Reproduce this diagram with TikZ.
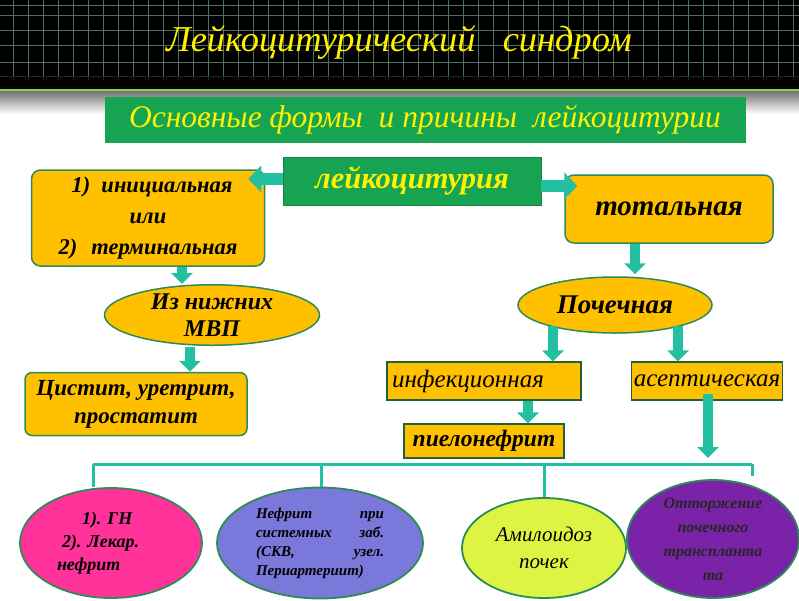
\documentclass[tikz,border=0pt]{standalone}
\usepackage{fontspec}
\setmainfont{Liberation Serif}
\frenchspacing
\usetikzlibrary{arrows.meta,shapes.geometric}
\definecolor{teal1}{HTML}{22BFA0}
\definecolor{orng}{HTML}{FFC000}
\definecolor{bord}{HTML}{2E8B57}
\definecolor{grn}{HTML}{16A452}
\definecolor{grid1}{HTML}{4F6F5A}
\definecolor{lime1}{HTML}{8FD14F}
\definecolor{pink1}{HTML}{FF3399}
\definecolor{blue1}{HTML}{7B78DC}
\definecolor{chart1}{HTML}{DDF542}
\definecolor{purp1}{HTML}{7A22A8}
\tikzset{
  obox/.style={draw=bord,line width=1.5pt,fill=orng,rounded corners=9pt,inner sep=2pt,font=\bfseries\itshape},
  sbox/.style={draw=bord!70!black,line width=1.2pt,fill=orng,inner sep=2pt,font=\itshape},
  oell/.style={ellipse,draw=bord,line width=1.5pt,fill=orng,inner sep=0pt,font=\bfseries\itshape},
  bell/.style={ellipse,draw=bord,line width=1.8pt,inner sep=0pt,font=\bfseries\itshape},
  barrow/.style={draw=teal1,line width=12pt,-{Triangle[width=26pt,length=13pt,fill=teal1]}},
  narrow/.style={draw=teal1,line width=10pt,-{Triangle[width=21pt,length=11pt,fill=teal1]}},
  tline/.style={draw=teal1,line width=3pt},
}
\begin{document}
\begin{tikzpicture}[x=1pt,y=-1pt]
\useasboundingbox (0,0) rectangle (799,600);
\fill[white] (0,0) rectangle (799,600);
% header
\fill[black] (0,0) rectangle (799,89);
\foreach \x in {13,28,...,799} \draw[grid1,line width=0.7pt] (\x,0) -- (\x,80);
\foreach \y in {5,15,30,45,62,76} \draw[grid1,line width=0.7pt] (0,\y) -- (799,\y);
\fill[black,opacity=0.6] (0,76) rectangle (799,89);
\fill[top color=black!55,bottom color=white] (0,91) rectangle (799,114);
\fill[lime1] (0,88.5) rectangle (799,91);
\node[text=yellow,font=\itshape\fontsize{36.4}{40}\selectfont] (title) at (399,42) {Лейкоцитурический\ \ \ синдром};
% banner
\node[fill=grn,minimum width=641pt,minimum height=46pt,inner sep=0pt,text=yellow,font=\itshape\fontsize{31.5}{34}\selectfont] (ban) at (425,120) {Основные формы\ \ и причины\ \ лейкоцитурии};
% level 1
\node[fill=grn,draw=grn!80!black,line width=0.8pt,minimum width=258pt,minimum height=48pt,inner sep=0pt,text=yellow,font=\bfseries\itshape\fontsize{30.5}{32}\selectfont] (leuk) at (412,181) {лейкоцитурия};
\node[obox,minimum width=233pt,minimum height=96pt,align=center,font=\bfseries\itshape\fontsize{22.5}{31}\selectfont] (lbox) at (148,218) {\hspace*{8pt}1)\ \ инициальная\\или\\2)\hspace{14pt}терминальная};
\node[obox,minimum width=208pt,minimum height=68pt,font=\bfseries\itshape\fontsize{29}{31}\selectfont] (total) at (669,209) {тотальная};
% level 2
\node[oell,minimum width=215pt,minimum height=60pt,align=center,font=\bfseries\itshape\fontsize{24}{27}\selectfont] (ell1) at (212,315) {Из нижних\\МВП};
\node[oell,minimum width=194pt,minimum height=56pt,font=\bfseries\itshape\fontsize{27}{29}\selectfont] (poch) at (615,305) {Почечная};
\node[obox,rounded corners=7pt,minimum width=222pt,minimum height=63pt,align=center,font=\bfseries\itshape\fontsize{23}{28}\selectfont] (cyst) at (136,404) {Цистит, уретрит,\\простатит};
\node[sbox,minimum width=194pt,minimum height=38pt,text width=184pt,align=left,font=\itshape\fontsize{25}{27}\selectfont] (inf) at (484,381) {инфекционная};
\node[sbox,minimum width=151pt,minimum height=38pt,font=\itshape\fontsize{25}{27}\selectfont] (asep) at (707,381) {асептическая};
\node[sbox,minimum width=160pt,minimum height=34pt,font=\bfseries\itshape\fontsize{23.5}{25}\selectfont] (piel) at (484,441) {пиелонефрит};
% bottom ellipses
\node[bell,fill=pink1,minimum width=182pt,minimum height=110pt,text width=108pt,align=left,font=\bfseries\itshape\fontsize{18}{23}\selectfont] (e1) at (111,543) {\hspace*{25pt}1). ГН\\\hspace*{5pt}2). Лекар.\\нефрит};
\node[bell,fill=blue1,minimum width=206pt,minimum height=111pt,font=\bfseries\itshape\fontsize{15}{19}\selectfont] (e2) at (320,543) {\begin{tabular}{@{}p{128pt}@{}}Нефрит\hfill при\\системных\hfill заб.\\(СКВ,\hfill узел.\\Периартериит)\end{tabular}};
\node[bell,fill=chart1,minimum width=164pt,minimum height=100pt,align=center,font=\itshape\fontsize{21}{27}\selectfont] (e3) at (544,548) {Амилоидоз\\почек};
\node[bell,fill=purp1,minimum width=172pt,minimum height=118pt,align=center,text=black!85,font=\bfseries\itshape\fontsize{16}{24}\selectfont] (e4) at (713,539) {Отторжение\\почечного\\транспланта\\та};
% arrows
\draw[barrow] ([yshift=2pt]leuk.west) -- ([xshift=-17pt,yshift=2pt]leuk.west -| lbox.east);
\draw[barrow] ([yshift=-5pt]leuk.east) -- ([xshift=36pt,yshift=-5pt]leuk.east);
\draw[narrow] (lbox.south -| 182,0) -- (ell1.north -| 182,0);
\draw[narrow] ([yshift=-1pt]ell1.south -| 190,0) -- (cyst.north -| 190,0);
\draw[narrow] (total.south -| 635,0) -- ([yshift=2pt]poch.north -| 635,0);
\draw[narrow] (553,326) -- (inf.north -| 553,0);
\draw[narrow] (678,326) -- (asep.north -| 678,0);
\draw[narrow] (inf.south -| 528,0) -- (piel.north -| 528,0);
\coordinate (aend) at (708,458);
\draw[narrow] ([yshift=7pt]asep.south -| 708,0) -- (aend);
% connector lines
\coordinate (hl) at (93,464);
\coordinate (hr) at (752,464);
\draw[tline] (hl) -- (hr);
\draw[tline] (hl) -- (e1.north -| hl);
\draw[tline] (321,464) -- (e2.north -| 321,0);
\draw[tline] (544,464) -- (e3.north -| 544,0);
\draw[tline] (hr) -- ([yshift=3pt]e4.north -| hr);
\end{tikzpicture}
\end{document}
